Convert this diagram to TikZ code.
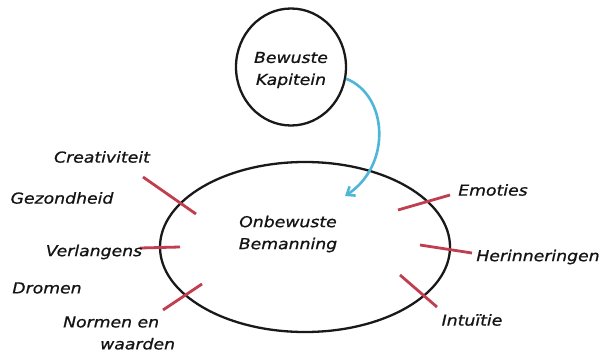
\documentclass[tikz,border=0pt]{standalone}
\usepackage{fontspec}
\setmainfont{DejaVu Sans}[FakeStretch=1.15,FakeBold=0.9]
\usetikzlibrary{shapes.geometric,arrows.meta}
\definecolor{tickred}{RGB}{192,62,80}
\definecolor{arrowblue}{RGB}{78,182,214}
\tikzset{
  lbl/.style={font=\fontsize{15}{18}\selectfont\itshape, text=black!92, inner sep=0pt},
  bubble/.style={draw=black!90, ellipse, line width=2.3pt, inner sep=0pt},
  tick/.style={draw=tickred, line width=2.8pt},
  link/.style={draw=arrowblue, line width=2.6pt, -{Straight Barb[length=7pt,width=11pt]}}
}
\begin{document}
\begin{tikzpicture}[x=1pt,y=-1pt]
\useasboundingbox[fill=white] (0,0) rectangle (600,353);
% circles
\node[bubble, minimum width=110pt, minimum height=117pt] (kap) at (291,67) {};
\node[lbl, align=center] (kaptxt) at (291,70) {Bewuste\\[4pt]Kapitein};
\node[bubble, minimum width=290pt, minimum height=170pt] (bem) at (305,247) {};
\node[lbl, align=center] (bemtxt) at (288,234) {Onbewuste\\[4pt]Bemanning};
% arrow
\coordinate (tip) at (345,196);
\draw[link] (kap.-12) .. controls (388,95) and (392,165) .. (tip);
% ticks
\coordinate (c1) at (143,177); \coordinate (c2) at (196,214);
\coordinate (v1) at (140,248); \coordinate (v2) at (180,247);
\coordinate (n1) at (163,310); \coordinate (n2) at (202,284);
\coordinate (e1) at (398,210); \coordinate (e2) at (450,195);
\coordinate (h1) at (420,245); \coordinate (h2) at (472,253);
\coordinate (i1) at (400,275); \coordinate (i2) at (437,307);
\draw[tick] (c1) -- (c2);
\draw[tick] (v1) -- (v2);
\draw[tick] (n1) -- (n2);
\draw[tick] (e1) -- (e2);
\draw[tick] (h1) -- (h2);
\draw[tick] (i1) -- (i2);
% labels
\node[lbl] (creat) at (102,157) {Creativiteit};
\node[lbl] (gez) at (62,198) {Gezondheid};
\node[lbl] (verl) at (94,252) {Verlangens};
\node[lbl] (drom) at (47,288) {Dromen};
\node[lbl, align=left, anchor=west] (norm) at (63,333) {Normen en\\[4pt]\hspace*{37pt}waarden};
\node[lbl] (emo) at (493,190) {Emoties};
\node[lbl] (her) at (538,257) {Herinneringen};
\node[lbl] (int) at (472,320) {Intuïtie};
\end{tikzpicture}
\end{document}
